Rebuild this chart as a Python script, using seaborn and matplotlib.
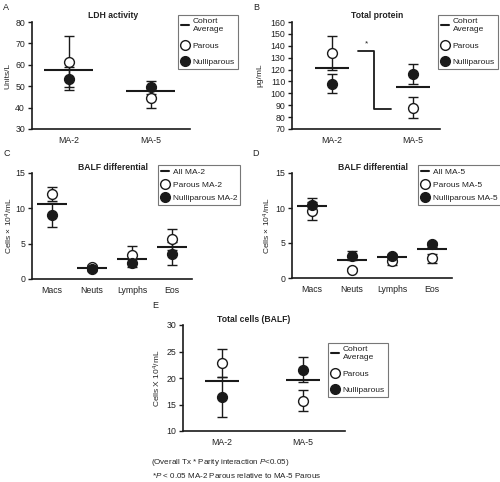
import numpy as np
import pandas as pd
import matplotlib
matplotlib.use("Agg")
import matplotlib.pyplot as plt
from matplotlib.lines import Line2D
import seaborn as sns

# ---------------------------------------------------------------------
# data
# ---------------------------------------------------------------------
cohorts = ["MA-2", "MA-5"]
cell_types = ["Macs", "Neuts", "Lymphs", "Eos"]

ldh_parous = [61.5, 44.5]
ldh_parous_err = [12.0, 4.5]
ldh_nullip = [53.5, 49.5]
ldh_nullip_err = [5.5, 3.0]
ldh_mean = [57.5, 47.8]

prot_parous = [134.0, 88.0]
prot_parous_err = [14.0, 8.5]
prot_nullip = [108.0, 116.0]
prot_nullip_err = [8.0, 8.5]
prot_mean = [121.0, 105.5]
prot_sig = [135.8, 86.8]  # bracket levels (MA-2 parous vs MA-5 parous)

ma2_parous = [12.0, 1.7, 3.4, 5.6]
ma2_parous_err = [1.0, 0.3, 1.2, 1.5]
ma2_nullip = [9.1, 1.4, 2.3, 3.6]
ma2_nullip_err = [1.7, 0.2, 0.6, 1.6]
ma2_mean = [10.6, 1.6, 2.9, 4.5]

ma5_parous = [9.6, 1.2, 2.5, 2.8]
ma5_parous_err = [1.3, 0.2, 0.6, 0.65]
ma5_nullip = [10.5, 3.2, 3.1, 4.8]
ma5_nullip_err = [1.0, 0.6, 0.3, 0.3]
ma5_mean = [10.3, 2.6, 3.0, 4.2]

tot_parous = [22.8, 15.7]
tot_parous_err = [2.6, 2.0]
tot_nullip = [16.4, 21.6]
tot_nullip_err = [3.7, 2.3]
tot_mean = [19.5, 19.7]

# ---------------------------------------------------------------------
# theme
# ---------------------------------------------------------------------
sns.set_theme(style="ticks")
plt.rcParams["font.family"] = ["Liberation Sans", "DejaVu Sans"]
plt.rcParams["mathtext.fontset"] = "custom"
plt.rcParams["mathtext.it"] = "Liberation Sans:italic"
plt.rcParams["mathtext.rm"] = "Liberation Sans"
plt.rcParams["axes.linewidth"] = 1.2
plt.rcParams["xtick.major.width"] = 1.0
plt.rcParams["ytick.major.width"] = 1.0
plt.rcParams["ytick.major.size"] = 3
plt.rcParams["text.color"] = "#222222"

INK = "#1a1a1a"
TICK_FS = 6.3
LEG_FS = 6.0
TITLE_FS = 6.2
YLAB_FS = 6.0

fig = plt.figure(figsize=(5.0, 4.82), dpi=100)
W, H = 500.0, 482.0


def add_axes(x0, x1, y0, y1):
    return fig.add_axes([x0 / W, 1 - y1 / H, (x1 - x0) / W, (y1 - y0) / H])


def draw_panel(ax, labels, parous, parous_err, nullip, nullip_err, mean, half):
    pos = np.arange(len(labels))
    ax.errorbar(pos, parous, yerr=parous_err, fmt="none", ecolor=INK,
                elinewidth=1.0, capsize=3.5, capthick=1.0, zorder=1)
    ax.errorbar(pos, nullip, yerr=nullip_err, fmt="none", ecolor=INK,
                elinewidth=1.0, capsize=3.5, capthick=1.0, zorder=1)
    ax.hlines(mean, pos - half, pos + half, color=INK, lw=1.5, zorder=2)
    df = pd.DataFrame({"pos": np.concatenate([pos, pos]),
                       "val": list(parous) + list(nullip),
                       "grp": ["Parous"] * len(pos) + ["Nulliparous"] * len(pos)})
    sns.scatterplot(data=df[df.grp == "Parous"], x="pos", y="val", ax=ax,
                    color="white", edgecolor=INK, linewidth=1.0, s=50,
                    zorder=3, legend=False)
    sns.scatterplot(data=df[df.grp == "Nulliparous"], x="pos", y="val", ax=ax,
                    color=INK, edgecolor=INK, linewidth=1.0, s=50,
                    zorder=4, legend=False)
    ax.set_xticks(pos)
    ax.set_xticklabels(labels)
    ax.set_xlabel("")
    ax.tick_params(axis="x", length=0, labelsize=TICK_FS, pad=5, colors="#222222")
    ax.tick_params(axis="y", labelsize=TICK_FS, pad=2, colors="#222222")
    ax.tick_params(axis="both", color=INK)
    for s in ["left", "bottom"]:
        ax.spines[s].set_color(INK)
    sns.despine(ax=ax)


def set_ylabel_at(ax, text, right_px, x0, x1):
    # right_px: figure pixel where the right side of the rotated label sits
    ax.set_ylabel(text, fontsize=YLAB_FS)
    ax.yaxis.set_label_coords((right_px - x0) / (x1 - x0), 0.5)


def add_legend(labels, box, spacing):
    x0, x1, y0, y1 = box
    handles = [Line2D([], [], color=INK, lw=1.5),
               Line2D([], [], marker="o", ls="none", mfc="white", mec=INK, ms=7, mew=1.0),
               Line2D([], [], marker="o", ls="none", mfc=INK, mec=INK, ms=7, mew=1.0)]
    leg = fig.legend(handles, labels, loc="upper left",
                     bbox_to_anchor=(x0 / W, 1 - y0 / H),
                     bbox_transform=fig.transFigure, fontsize=LEG_FS,
                     frameon=True, fancybox=False, handlelength=0.9,
                     handletextpad=0.45, borderpad=0.4, labelspacing=spacing,
                     borderaxespad=0)
    leg.get_frame().set_edgecolor("#555555")
    leg.get_frame().set_linewidth(0.8)
    return leg


# --- A: LDH activity ---
axA = add_axes(32, 190, 22, 129)
draw_panel(axA, cohorts, ldh_parous, ldh_parous_err, ldh_nullip, ldh_nullip_err, ldh_mean, 0.3)
axA.set_xlim(-0.45, 1.48)
axA.set_ylim(30, 80)
axA.set_yticks(np.arange(30, 81, 10))
set_ylabel_at(axA, "Units/L", 11, 32, 190)
fig.text(113 / W, 1 - 15 / H, "LDH activity", ha="center", va="center", fontsize=TITLE_FS, weight="bold")
add_legend(["Cohort\nAverage", "Parous", "Nulliparous"], (178, 239, 15, 73), 1.0)

# --- B: Total protein ---
axB = add_axes(292, 440, 22, 129)
draw_panel(axB, cohorts, prot_parous, prot_parous_err, prot_nullip, prot_nullip_err, prot_mean, 0.21)
axB.set_xlim(-0.49, 1.33)
axB.set_ylim(70, 160)
axB.set_yticks(np.arange(70, 161, 10))
set_ylabel_at(axB, "µg/mL", 263, 292, 440)
axB.plot([0.32, 0.52, 0.52, 0.73], [prot_sig[0], prot_sig[0], prot_sig[1], prot_sig[1]],
         color=INK, lw=1.3, zorder=1)
axB.text(0.43, prot_sig[0] + 3, "*", ha="center", va="bottom", fontsize=6)
fig.text(377 / W, 1 - 15 / H, "Total protein", ha="center", va="center", fontsize=TITLE_FS, weight="bold")
add_legend(["Cohort\nAverage", "Parous", "Nulliparous"], (438, 497, 15, 73), 1.0)

# --- C: BALF differential MA-2 ---
axC = add_axes(32, 192, 173, 279)
draw_panel(axC, cell_types, ma2_parous, ma2_parous_err, ma2_nullip, ma2_nullip_err, ma2_mean, 0.38)
axC.set_xlim(-0.5, 3.5)
axC.set_ylim(0, 15)
axC.set_yticks([0, 5, 10, 15])
set_ylabel_at(axC, "Cells × 10$^4$/mL", 15, 32, 192)
fig.text(113 / W, 1 - 167 / H, "BALF differential", ha="center", va="center", fontsize=TITLE_FS, weight="bold")
add_legend(["All MA-2", "Parous MA-2", "Nulliparous MA-2"], (158, 239, 165, 208), 0.6)

# --- D: BALF differential MA-5 ---
axD = add_axes(292, 452, 173, 278)
draw_panel(axD, cell_types, ma5_parous, ma5_parous_err, ma5_nullip, ma5_nullip_err, ma5_mean, 0.38)
axD.set_xlim(-0.5, 3.5)
axD.set_ylim(0, 15)
axD.set_yticks([0, 5, 10, 15])
set_ylabel_at(axD, "Cells × 10$^4$/mL", 273, 292, 452)
fig.text(373 / W, 1 - 167 / H, "BALF differential", ha="center", va="center", fontsize=TITLE_FS, weight="bold")
add_legend(["All MA-5", "Parous MA-5", "Nulliparous MA-5"], (418, 498, 165, 210), 0.6)

# --- E: Total cells ---
axE = add_axes(183, 345, 325, 431)
draw_panel(axE, cohorts, tot_parous, tot_parous_err, tot_nullip, tot_nullip_err, tot_mean, 0.21)
axE.set_xlim(-0.48, 1.52)
axE.set_ylim(10, 30)
axE.set_yticks([10, 15, 20, 25, 30])
set_ylabel_at(axE, "Cells X 10$^4$/mL", 163, 183, 345)
fig.text(254 / W, 1 - 320 / H, "Total cells (BALF)", ha="center", va="center", fontsize=TITLE_FS, weight="bold")
add_legend(["Cohort\nAverage", "Parous", "Nulliparous"], (328, 389, 343, 399), 1.0)

# panel letters
for lab, (px, py) in {"A": (3, 7), "B": (253, 7), "C": (3, 153), "D": (252, 153), "E": (152, 305)}.items():
    fig.text(px / W, 1 - py / H, lab, ha="left", va="center", fontsize=6.5)

# footnotes
fig.text(151 / W, 1 - 463 / H, "(Overall Tx * Parity interaction $P$<0.05)", ha="left", va="center", fontsize=5.8)
fig.text(152 / W, 1 - 476 / H, "*$P$ < 0.05 MA-2 Parous relative to MA-5 Parous", ha="left", va="center", fontsize=5.8)

fig.savefig("out.png", dpi=100)
